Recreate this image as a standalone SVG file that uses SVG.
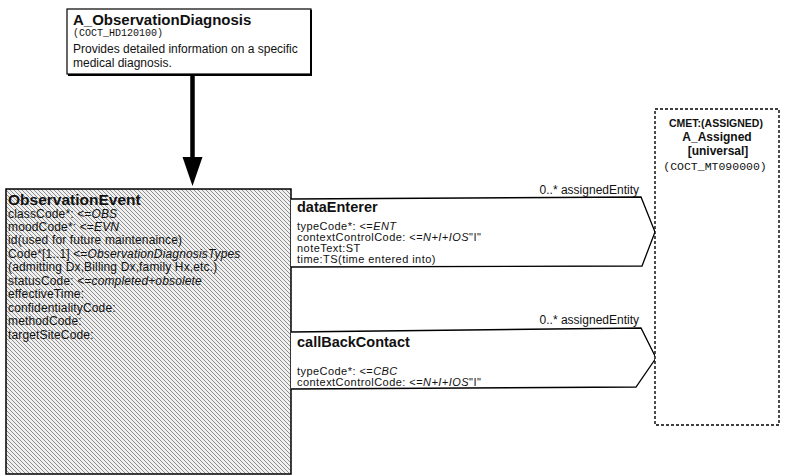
<svg xmlns="http://www.w3.org/2000/svg" width="785" height="476" viewBox="0 0 785 476">
<style>
text{font-family:"Liberation Sans",Arial,sans-serif;fill:#111}
.t{font-size:15px;font-weight:bold}
.s{font-size:14.5px;font-weight:bold}
.m{font-family:"Liberation Mono","Courier New",monospace;font-size:10px}
.b{font-size:12px}
.a{font-size:12px;letter-spacing:0.15px}
.r{font-size:11px;letter-spacing:0.45px}
.l{font-size:12px}
.i{font-style:italic}
.c{font-weight:bold;text-anchor:middle}
.box{fill:#fff;stroke:#000;stroke-width:1.2}
.chev{fill:#fff;stroke:#000;stroke-width:1.3}
.cmet{fill:#fff;stroke:#000;stroke-width:1.4;stroke-dasharray:3,2}
</style>
<defs>
<pattern id="hatch" patternUnits="userSpaceOnUse" width="4" height="4">
<rect width="4" height="4" fill="#f0f0f0"/>
<path d="M-1,-1 L5,5 M3,-1 L5,1 M-1,3 L1,5" stroke="#6e6e6e" stroke-width="0.75"/>
</pattern>
</defs>
<g id="connectors">
<line x1="192.5" y1="74" x2="192.5" y2="160" stroke="#000" stroke-width="4.5"/>
<path d="M182.5,157 L202.5,157 L192.5,186 Z" fill="#000"/>
</g>
<g id="A_ObservationDiagnosis">
<rect class="box" x="67" y="9" width="244" height="65"/>
<path d="M311,10 L311,75 L68,75" fill="none" stroke="#000" stroke-width="2"/>
<text class="t" x="73" y="25">A_ObservationDiagnosis</text>
<text class="m" x="73" y="36">(COCT_HD120100)</text>
<text class="b" x="73" y="53">Provides detailed information on a specific</text>
<text class="b" x="73" y="67">medical diagnosis.</text>
</g>
<g id="ObservationEvent">
<rect x="6" y="189" width="285" height="285" fill="url(#hatch)" stroke="#000" stroke-width="1.5"/>
<text class="t" x="8" y="205" style="font-size:15.5px">ObservationEvent</text>
<text class="a" x="8" y="218">classCode*: &lt;=<tspan class="i">OBS</tspan></text>
<text class="a" x="8" y="231">moodCode*: &lt;=<tspan class="i">EVN</tspan></text>
<text class="a" x="8" y="244">id(used for future maintenaince)</text>
<text class="a" x="8" y="257.5">Code*[1..1] &lt;=<tspan class="i">ObservationDiagnosisTypes</tspan></text>
<text class="a" x="8" y="271">(admitting Dx,Billing Dx,family Hx,etc.)</text>
<text class="a" x="8" y="284.5">statusCode: <tspan class="i">&lt;=completed+obsolete</tspan></text>
<text class="a" x="8" y="298">effectiveTime:</text>
<text class="a" x="8" y="311.5">confidentialityCode:</text>
<text class="a" x="8" y="325">methodCode:</text>
<text class="a" x="8" y="338.5">targetSiteCode:</text>
</g>
<g id="dataEnterer">
<path class="chev" d="M291,199 L641,197 L655,232 L642,266 L291,267"/>
<text class="l" x="639" y="194" text-anchor="end">0..* assignedEntity</text>
<text class="s" x="297" y="212">dataEnterer</text>
<text class="r" x="297" y="229.5">typeCode*: &lt;=<tspan class="i">ENT</tspan></text>
<text class="r" x="297" y="240.5">contextControlCode: &lt;=<tspan class="i">N+I+IOS</tspan>"I"</text>
<text class="r" x="297" y="251.8">noteText:ST</text>
<text class="r" x="297" y="263">time:TS(time entered into)</text>
</g>
<g id="callBackContact">
<path class="chev" d="M291,332 L641,328 L656,358 L636,387 L291,389"/>
<text class="l" x="639" y="324" text-anchor="end">0..* assignedEntity</text>
<text class="s" x="297" y="347">callBackContact</text>
<text class="r" x="297" y="374.5">typeCode*: &lt;=<tspan class="i">CBC</tspan></text>
<text class="r" x="297" y="385.5">contextControlCode: &lt;=<tspan class="i">N+I+IOS</tspan>"I"</text>
</g>
<g id="A_Assigned">
<rect class="cmet" x="655" y="109" width="124" height="316"/>
<text class="c" x="716" y="127" style="font-size:10.5px">CMET:(ASSIGNED)</text>
<text class="c" x="717" y="141" style="font-size:12px">A_Assigned</text>
<text class="c" x="718" y="155" style="font-size:12px">[universal]</text>
<text class="m" x="715" y="170" text-anchor="middle" style="font-size:11.5px">(COCT_MT090000)</text>
</g>
</svg>
